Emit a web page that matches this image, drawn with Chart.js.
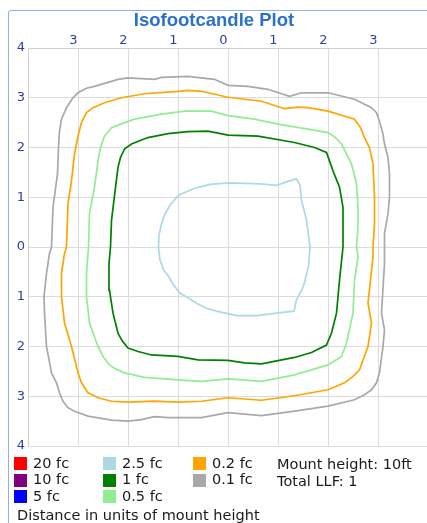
<!DOCTYPE html>
<html>
<head>
<meta charset="utf-8">
<script src="https://cdn.jsdelivr.net/npm/chart.js@4"></script>
<style>
  html, body { margin: 0; padding: 0; background: #fff; overflow: hidden; width: 427px; height: 523px; }
  #frame { position: absolute; left: 8px; top: 10px; width: 450px; height: 540px; border: 1px solid #8fb0e8; border-radius: 3px; box-sizing: border-box; }
  #wrap { position: absolute; left: 0; top: 0; width: 440px; height: 523px; }
  .lg { position: absolute; font-family: "DejaVu Sans", sans-serif; font-size: 14.5px; color: #1a1a1a; white-space: nowrap; line-height: 17px; }
  .sw { position: absolute; width: 13px; height: 13px; }
</style>
</head>
<body>
<div id="frame"></div>
<div id="wrap"><canvas id="c" width="440" height="523"></canvas></div>
<div id="legend"></div>
<script>
// ---- data (units of mount height) ----
const levels = ['20 fc', '10 fc', '5 fc', '2.5 fc', '1 fc', '0.5 fc', '0.2 fc', '0.1 fc'];
const levelColors = ['#ff0000', '#800080', '#0000ff', '#add8e6', '#008000', '#90ee90', '#ffa500', '#a9a9a9'];
const axisTicks = [-4, -3, -2, -1, 0, 1, 2, 3, 4];
const notes = ['Mount height: 10ft', 'Total LLF: 1'];
const axisCaption = 'Distance in units of mount height';

const contour20 = [];
const contour10 = [];
const contour5 = [];
const contour2_5 = [[-1.39,0],[-1.38,0.24],[-1.33,0.47],[-1.26,0.67],[-1.16,0.84],[-0.99,1.04],[-0.83,1.11],[-0.69,1.17],[-0.36,1.26],[0.04,1.29],[0.64,1.27],[0.97,1.24],[1.17,1.31],[1.37,1.37],[1.44,1.24],[1.47,0.94],[1.57,0.54],[1.64,0],[1.61,-0.39],[1.51,-0.79],[1.37,-1.06],[1.32,-1.29],[0.97,-1.33],[0.57,-1.38],[0.17,-1.38],[-0.23,-1.29],[-0.43,-1.23],[-0.63,-1.13],[-0.83,-1.0],[-0.96,-0.93],[-1.09,-0.76],[-1.19,-0.59],[-1.29,-0.46],[-1.36,-0.26],[-1.39,0]];
const contour1 = [[-2.35,0],[-2.33,0.53],[-2.25,1.2],[-2.2,1.6],[-2.15,1.8],[-2.07,1.97],[-1.93,2.07],[-1.73,2.15],[-1.6,2.2],[-1.2,2.28],[-0.8,2.32],[-0.4,2.33],[0,2.25],[0.6,2.23],[1.33,2.1],[1.73,2.0],[1.97,1.9],[2.1,1.53],[2.23,1.2],[2.3,0.8],[2.3,0],[2.23,-0.67],[2.17,-1.33],[2.07,-1.73],[1.97,-1.97],[1.67,-2.12],[1.33,-2.22],[0.67,-2.35],[0.33,-2.33],[0,-2.28],[-0.6,-2.27],[-1.0,-2.2],[-1.53,-2.17],[-1.8,-2.1],[-2.0,-2.03],[-2.12,-1.88],[-2.2,-1.73],[-2.3,-1.33],[-2.37,-0.87],[-2.38,-0.33],[-2.35,0]];
const contour0_5 = [[-2.79,0],[-2.77,0.67],[-2.67,1.2],[-2.6,1.73],[-2.55,2.0],[-2.47,2.23],[-2.33,2.4],[-2.07,2.5],[-1.87,2.57],[-1.33,2.67],[-0.87,2.73],[-0.33,2.73],[0,2.64],[0.53,2.57],[1.0,2.47],[1.6,2.37],[2.0,2.3],[2.15,2.2],[2.27,2.07],[2.47,1.67],[2.57,1.27],[2.6,0.8],[2.6,0.4],[2.57,0],[2.6,-0.2],[2.53,-0.67],[2.5,-1.33],[2.37,-1.93],[2.27,-2.2],[2.0,-2.37],[1.33,-2.57],[0.67,-2.7],[0,-2.65],[-0.53,-2.7],[-1.0,-2.67],[-1.67,-2.62],[-2.07,-2.53],[-2.25,-2.45],[-2.37,-2.37],[-2.5,-2.2],[-2.6,-2.0],[-2.77,-1.53],[-2.83,-1.0],[-2.83,-0.53],[-2.79,0]];
const contour0_2 = [[-3.23,0],[-3.2,0.87],[-3.13,1.33],[-3.07,1.87],[-3.03,2.07],[-3.0,2.23],[-2.93,2.5],[-2.83,2.7],[-2.7,2.8],[-2.47,2.9],[-2.13,3.0],[-1.67,3.08],[-1.0,3.13],[-0.8,3.15],[-0.53,3.13],[0,3.01],[0.67,2.93],[1.13,2.78],[1.4,2.81],[1.6,2.8],[2.0,2.73],[2.53,2.57],[2.65,2.4],[2.73,2.2],[2.83,2.0],[2.9,1.67],[2.93,1.0],[2.93,0.47],[2.9,0],[2.9,-0.2],[2.8,-1.13],[2.87,-1.53],[2.8,-2.0],[2.63,-2.47],[2.5,-2.6],[2.33,-2.73],[2.0,-2.87],[1.33,-2.99],[0.67,-3.08],[0,-3.03],[-0.53,-3.1],[-1.0,-3.12],[-1.47,-3.1],[-2.0,-3.12],[-2.33,-3.1],[-2.6,-3.03],[-2.8,-2.93],[-2.93,-2.73],[-3.0,-2.53],[-3.13,-2.0],[-3.27,-1.53],[-3.33,-1.0],[-3.33,-0.53],[-3.27,-0.13],[-3.23,0]];
const contour0_1 = [[-3.53,0],[-3.5,0.8],[-3.41,1.47],[-3.39,2.0],[-3.37,2.33],[-3.33,2.57],[-3.23,2.8],[-3.1,3.0],[-3.0,3.1],[-2.83,3.19],[-2.67,3.23],[-2.4,3.31],[-2.2,3.37],[-2.0,3.4],[-1.47,3.37],[-1.33,3.41],[-0.8,3.43],[-0.27,3.37],[0,3.25],[0.4,3.23],[0.8,3.17],[1.23,3.03],[1.47,3.1],[2.0,3.1],[2.53,2.97],[2.87,2.8],[2.97,2.7],[3.03,2.53],[3.1,2.27],[3.13,2.07],[3.2,1.8],[3.23,1.47],[3.23,1.0],[3.2,0.67],[3.13,0.27],[3.13,0],[3.13,-0.33],[3.07,-1.33],[3.13,-1.67],[3.1,-2.0],[3.03,-2.53],[2.97,-2.73],[2.87,-2.87],[2.73,-2.97],[2.53,-3.07],[2.0,-3.2],[1.33,-3.3],[0.67,-3.39],[0,-3.33],[-0.53,-3.43],[-1.2,-3.43],[-1.47,-3.41],[-1.73,-3.47],[-2.0,-3.5],[-2.33,-3.48],[-2.8,-3.4],[-3.07,-3.3],[-3.2,-3.23],[-3.3,-3.1],[-3.37,-2.93],[-3.43,-2.73],[-3.53,-2.53],[-3.63,-2.0],[-3.67,-1.33],[-3.68,-1.0],[-3.63,-0.53],[-3.57,-0.13],[-3.53,0]];

const contours = [contour20, contour10, contour5, contour2_5, contour1, contour0_5, contour0_2, contour0_1];

// ---- chart ----
const TICK_COLOR = '#2f3fa8';
const GRID = '#dcdcdc';
const datasets = levels.map((lab, i) => ({
  label: lab,
  data: contours[i].map(p => ({ x: p[0], y: p[1] })),
  borderColor: levelColors[i],
  backgroundColor: levelColors[i],
  borderWidth: 1.7,
  pointRadius: 0,
  showLine: true,
  tension: 0,
  fill: false
}));

const TITLE_SIZE = 18.5;
const TITLE_PAD_TOP = 9.4;
const titleBlock = TITLE_SIZE * 1.2 + TITLE_PAD_TOP;

new Chart(document.getElementById('c'), {
  type: 'scatter',
  data: { datasets },
  options: {
    responsive: false,
    animation: false,
    layout: { padding: { left: 0, right: 12, top: 0, bottom: 77 } },
    plugins: {
      legend: { display: false },
      tooltip: { enabled: false },
      title: {
        display: true,
        text: 'Isofootcandle Plot',
        color: '#2a72c9',
        font: { family: '"Liberation Sans", Arial, sans-serif', size: TITLE_SIZE, weight: 'bold', lineHeight: 1.2 },
        padding: { top: TITLE_PAD_TOP, bottom: 0 }
      }
    },
    scales: {
      x: {
        type: 'linear',
        position: 'top',
        min: axisTicks[0],
        max: axisTicks[axisTicks.length - 1],
        afterBuildTicks: s => { s.ticks = axisTicks.map(v => ({ value: v })); },
        afterFit: s => { s.height = 48 - titleBlock; },
        ticks: {
          color: TICK_COLOR,
          font: { family: '"DejaVu Sans", sans-serif', size: 13 },
          padding: 0,
          labelOffset: -4.5,
          maxRotation: 0,
          autoSkip: false,
          callback: v => (v === axisTicks[0] || v === axisTicks[axisTicks.length - 1]) ? '' : String(Math.abs(v))
        },
        grid: { color: GRID, lineWidth: 1, drawTicks: false },
        border: { color: '#d0d0d0' }
      },
      y: {
        type: 'linear',
        position: 'left',
        min: axisTicks[0],
        max: axisTicks[axisTicks.length - 1],
        afterBuildTicks: s => { s.ticks = axisTicks.map(v => ({ value: v })); },
        afterFit: s => { s.width = 28; },
        ticks: {
          color: TICK_COLOR,
          font: { family: '"DejaVu Sans", sans-serif', size: 13 },
          padding: 3,
          autoSkip: false,
          callback: v => String(Math.abs(v))
        },
        grid: { color: GRID, lineWidth: 1, drawTicks: false },
        border: { color: '#d0d0d0' }
      }
    }
  }
});

// ---- legend (HTML text) ----
const legendEl = document.getElementById('legend');
const colX = [14, 103, 193];
const rowY = [457, 473.5, 490];
levels.forEach((lab, i) => {
  const col = Math.floor(i / 3), row = i % 3;
  const sw = document.createElement('div');
  sw.className = 'sw';
  sw.style.left = colX[col] + 'px';
  sw.style.top = rowY[row] + 'px';
  sw.style.background = levelColors[i];
  legendEl.appendChild(sw);
  const t = document.createElement('div');
  t.className = 'lg';
  t.textContent = lab;
  t.style.left = (colX[col] + 19) + 'px';
  t.style.top = (rowY[row] - 2.5) + 'px';
  legendEl.appendChild(t);
});
notes.forEach((n, i) => {
  const t = document.createElement('div');
  t.className = 'lg';
  t.textContent = n;
  t.style.left = '277px';
  t.style.top = (456 + i * 17) + 'px';
  legendEl.appendChild(t);
});
const cap = document.createElement('div');
cap.className = 'lg';
cap.textContent = axisCaption;
cap.style.left = '17px';
cap.style.top = '507px';
legendEl.appendChild(cap);
</script>
</body>
</html>
